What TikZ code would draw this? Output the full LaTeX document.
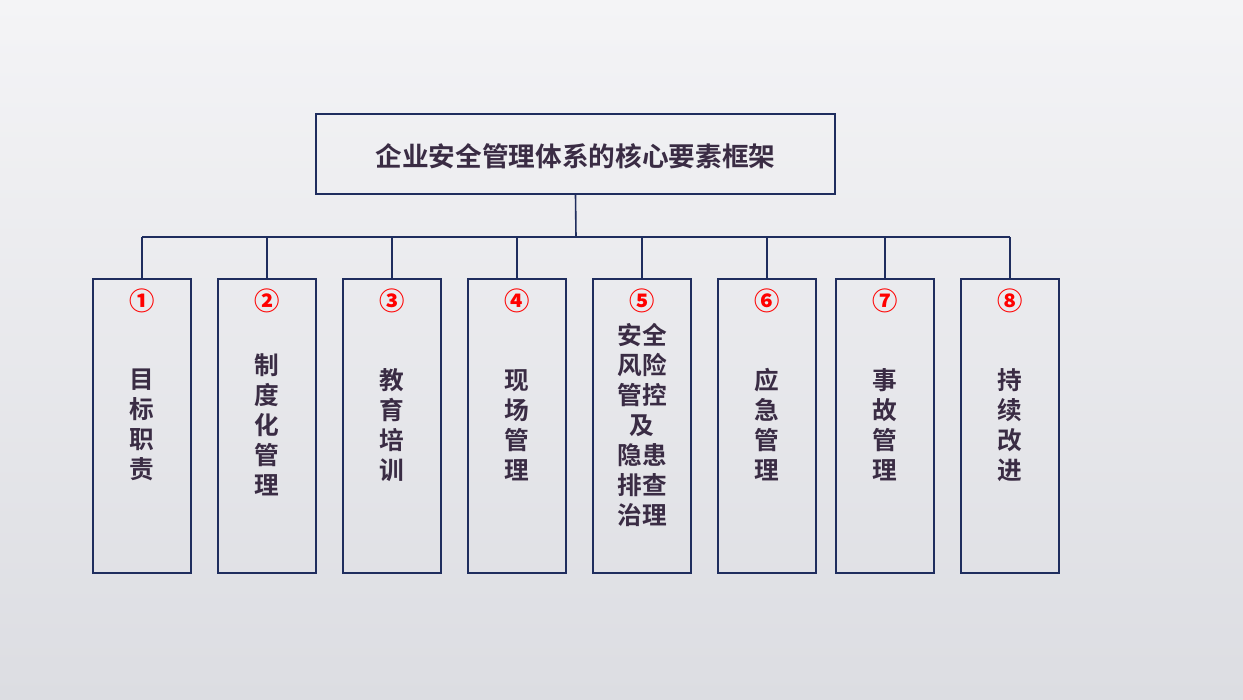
\documentclass[tikz,border=0pt]{standalone}
\usepackage{fontspec}
\newfontfamily\cjk{Noto Sans CJK SC Bold}
\newfontfamily\cjkb{Noto Sans CJK SC Black}
\definecolor{navy}{HTML}{1F2D5E}
\definecolor{txt}{HTML}{3A2C44}
\definecolor{bgA}{HTML}{F4F4F6}
\definecolor{bgB}{HTML}{DCDDE2}
\begin{document}
\begin{tikzpicture}[x=0.75pt,y=-0.75pt,
  boxs/.style={draw=navy,line width=1.2pt},
  link/.style={draw=navy,line width=1.2pt},
  lbl/.style={font=\cjk\fontsize{18.5}{22.5}\selectfont,text=txt,align=center},
  num/.style={font=\cjkb\fontsize{19}{20}\selectfont,text=red}]
\shade[top color=bgA,bottom color=bgB] (0,0) rectangle (1243,700);
\useasboundingbox (0,0) rectangle (1243,700);
\node[boxs,minimum width=519*0.75pt,minimum height=80*0.75pt] (top) at (575.5,154)
  {}; 
\node[lbl,font=\cjk\fontsize{20}{24}\selectfont] at (575.5,156) {企业安全管理体系的核心要素框架};
\coordinate (j) at (576,237);
\draw[link] (top.south) -- (j);
\draw[link] (142,237) -- (1010,237);
\foreach \i/\c/\n/\t/\ty in {
 1/142/①/目\\标\\职\\责/425,
 2/267/②/制\\度\\化\\管\\理/425,
 3/392/③/教\\育\\培\\训/425,
 4/517/④/现\\场\\管\\理/425,
 5/642/⑤/安全\\风险\\管控\\及\\隐患\\排查\\治理/425,
 6/767/⑥/应\\急\\管\\理/425,
 7/885/⑦/事\\故\\管\\理/425,
 8/1010/⑧/持\\续\\改\\进/425}{
  \node[boxs,minimum width=98*0.75pt,minimum height=294*0.75pt,anchor=north] (b\i) at (\c,278) {};
  \draw[link] (\c,237) -- (b\i.north);
  \node[num] (n\i) at (\c,301) {\n};
  \node[lbl] (t\i) at (\c,\ty) {\t};
}
\end{tikzpicture}
\end{document}
